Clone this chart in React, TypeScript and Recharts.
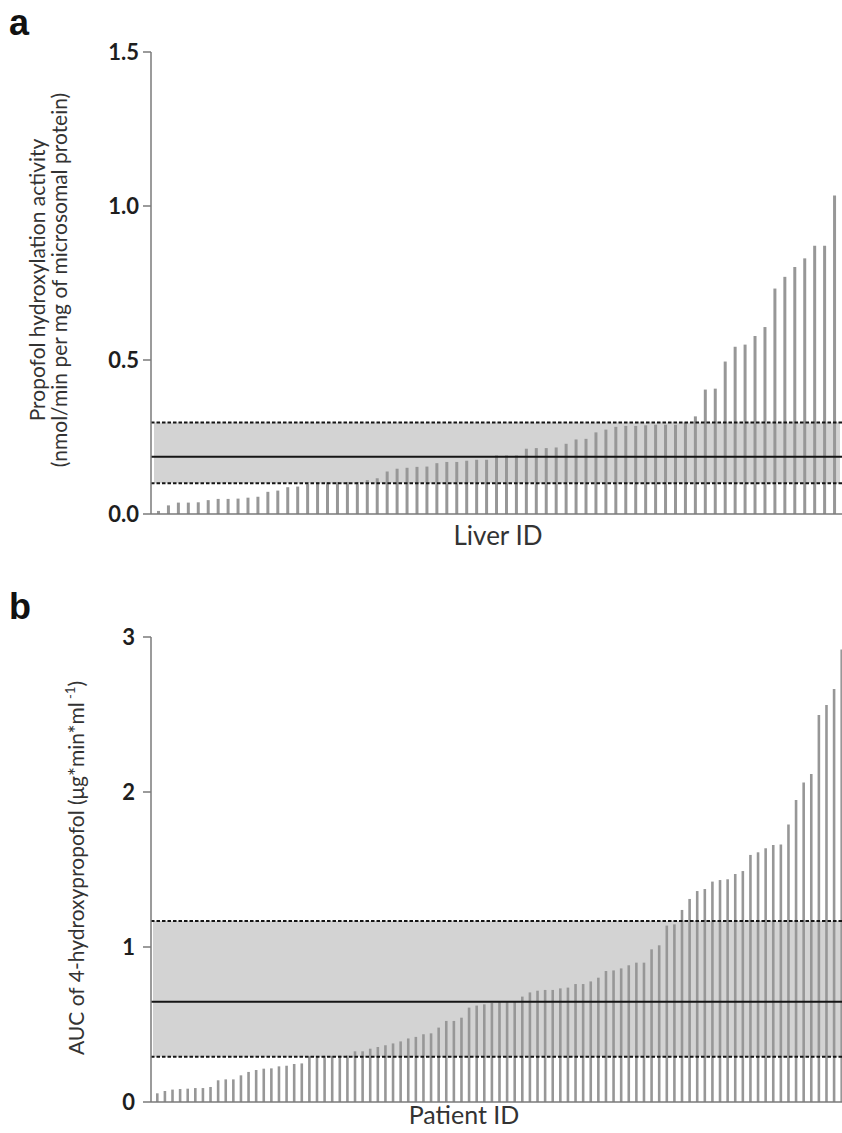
import React from "react";
import { BarChart, Bar, XAxis, YAxis, ReferenceArea, ReferenceLine } from "recharts";

// Panel a: propofol hydroxylation activity per liver (sorted)
const liverValues = [
  0.01, 0.028, 0.037, 0.037, 0.038, 0.045, 0.049, 0.049, 0.05, 0.053,
  0.056, 0.072, 0.076, 0.087, 0.089, 0.097, 0.103, 0.103, 0.104, 0.104,
  0.104, 0.11, 0.116, 0.138, 0.147, 0.15, 0.153, 0.154, 0.165, 0.169,
  0.169, 0.173, 0.176, 0.176, 0.19, 0.19, 0.19, 0.212, 0.214, 0.214,
  0.216, 0.228, 0.242, 0.244, 0.265, 0.274, 0.283, 0.286, 0.286, 0.288,
  0.29, 0.29, 0.29, 0.297, 0.317, 0.404, 0.407, 0.495, 0.543, 0.55,
  0.578, 0.607, 0.732, 0.77, 0.802, 0.83, 0.871, 0.871, 1.034,
];
const liverBand = { low: 0.1, median: 0.186, high: 0.297 };
const liverTicks = [0, 0.5, 1.0, 1.5];

// Panel b: AUC of 4-hydroxypropofol per patient (sorted)
const patientValues = [
  0.056, 0.071, 0.08, 0.084, 0.086, 0.09, 0.09, 0.097, 0.14, 0.146,
  0.146, 0.172, 0.194, 0.206, 0.215, 0.217, 0.23, 0.234, 0.245, 0.249,
  0.295, 0.297, 0.298, 0.298, 0.299, 0.3, 0.327, 0.327, 0.344, 0.355,
  0.366, 0.378, 0.391, 0.41, 0.42, 0.437, 0.443, 0.48, 0.523, 0.523,
  0.544, 0.609, 0.622, 0.63, 0.64, 0.645, 0.647, 0.648, 0.68, 0.707,
  0.718, 0.723, 0.723, 0.733, 0.738, 0.761, 0.761, 0.778, 0.802, 0.845,
  0.849, 0.862, 0.882, 0.899, 0.899, 0.985, 1.011, 1.138, 1.146, 1.239,
  1.31, 1.361, 1.374, 1.422, 1.432, 1.437, 1.471, 1.49, 1.594, 1.611,
  1.637, 1.658, 1.662, 1.791, 1.948, 2.062, 2.116, 2.497, 2.561, 2.665, 2.92,
];
const patientBand = { low: 0.292, median: 0.647, high: 1.168 };
const patientTicks = [0, 1, 2, 3];

const liverData = liverValues.map((v, i) => ({ id: `L${i + 1}`, v }));
const patientData = patientValues.map((v, i) => ({ id: `P${i + 1}`, v }));

const FONT = "Lato, 'Open Sans', sans-serif";
const AXIS = "#7a7a7a";
const BARC = "#979797";
const BANDC = "#d3d3d3";
const LINEC = "#151515";

const tickStyle = { fontSize: 22, fontWeight: 700, fill: "#1e1e1e", fontFamily: FONT };

export default function App() {
  return (
    <div
      style={{
        position: "absolute",
        left: 0,
        top: 0,
        width: 842,
        height: 1133,
        overflow: "hidden",
        background: "#fff",
        fontFamily: FONT,
      }}
    >
      <div style={{ position: "absolute", left: 0, top: 0 }}>
        <BarChart
          width={843}
          height={560}
          data={liverData}
          margin={{ top: 52, right: 0, left: 0, bottom: 0 }}
          barCategoryGap={0}
        >
          <ReferenceArea
            y1={liverBand.low}
            y2={liverBand.high}
            fill={BANDC}
            fillOpacity={1}
            stroke="none"
            zIndex={50}
          />
          <XAxis
            dataKey="id"
            tick={false}
            tickLine={false}
            axisLine={{ stroke: AXIS, strokeWidth: 1.5 }}
            padding={{ left: 3, right: 3 }}
            height={46}
          />
          <YAxis
            type="number"
            domain={[0, 1.5]}
            ticks={liverTicks}
            tickFormatter={(t: number) => t.toFixed(1)}
            width={151}
            tick={tickStyle}
            tickSize={8}
            tickMargin={4}
            tickLine={{ stroke: AXIS, strokeWidth: 1.5 }}
            axisLine={{ stroke: AXIS, strokeWidth: 1.5 }}
            interval={0}
          />
          <Bar dataKey="v" fill={BARC} barSize={3} isAnimationActive={false} />
          <ReferenceLine y={liverBand.low} stroke={LINEC} strokeWidth={2} strokeDasharray="3.5 2" zIndex={450} />
          <ReferenceLine y={liverBand.high} stroke={LINEC} strokeWidth={2} strokeDasharray="3.5 2" zIndex={450} />
          <ReferenceLine y={liverBand.median} stroke={LINEC} strokeWidth={2} zIndex={450} />
        </BarChart>
      </div>

      <div style={{ position: "absolute", left: 0, top: 560 }}>
        <BarChart
          width={846}
          height={573}
          data={patientData}
          margin={{ top: 77, right: 0, left: 0, bottom: 0 }}
          barCategoryGap={0}
        >
          <ReferenceArea
            y1={patientBand.low}
            y2={patientBand.high}
            fill={BANDC}
            fillOpacity={1}
            stroke="none"
            zIndex={50}
          />
          <XAxis
            dataKey="id"
            tick={false}
            tickLine={false}
            axisLine={{ stroke: AXIS, strokeWidth: 1.5 }}
            padding={{ left: 2, right: 1 }}
            height={31}
          />
          <YAxis
            type="number"
            domain={[0, 3]}
            ticks={patientTicks}
            width={151}
            tick={tickStyle}
            tickSize={8}
            tickMargin={8}
            tickLine={{ stroke: AXIS, strokeWidth: 1.5 }}
            axisLine={{ stroke: AXIS, strokeWidth: 1.5 }}
            interval={0}
          />
          <Bar dataKey="v" fill={BARC} barSize={2.6} isAnimationActive={false} />
          <ReferenceLine y={patientBand.low} stroke={LINEC} strokeWidth={2} strokeDasharray="3.5 2" zIndex={450} />
          <ReferenceLine y={patientBand.high} stroke={LINEC} strokeWidth={2} strokeDasharray="3.5 2" zIndex={450} />
          <ReferenceLine y={patientBand.median} stroke={LINEC} strokeWidth={2} zIndex={450} />
        </BarChart>
      </div>

      <svg
        width={842}
        height={1133}
        style={{ position: "absolute", left: 0, top: 0, pointerEvents: "none" }}
      >
        <text x={9} y={35} fontSize={36} fontWeight={700} fontFamily="'Liberation Sans', Arial, sans-serif" fill="#111">
          a
        </text>
        <text x={9} y={619} fontSize={36} fontWeight={700} fontFamily="'Liberation Sans', Arial, sans-serif" fill="#111">
          b
        </text>

        <text
          transform="translate(45,280) rotate(-90)"
          textAnchor="middle"
          fontSize={21}
          fontFamily={FONT}
          fill="#333"
        >
          Propofol hydroxylation activity
        </text>
        <text
          transform="translate(67,280) rotate(-90)"
          textAnchor="middle"
          fontSize={21}
          fontFamily={FONT}
          fill="#333"
        >
          (nmol/min per mg of microsomal protein)
        </text>

        <text
          transform="translate(84,868) rotate(-90)"
          textAnchor="middle"
          fontSize={21}
          fontFamily={FONT}
          fill="#333"
        >
          AUC of 4-hydroxypropofol (μg*min*ml
          <tspan fontSize={13} dy={-9}> -1</tspan>
          <tspan dy={9}>)</tspan>
        </text>

        <text x={498} y={545} textAnchor="middle" fontSize={26} fontFamily={FONT} fill="#333">
          Liver ID
        </text>
        <text x={464} y={1124} textAnchor="middle" fontSize={25} fontFamily={FONT} fill="#333">
          Patient ID
        </text>
      </svg>
    </div>
  );
}
